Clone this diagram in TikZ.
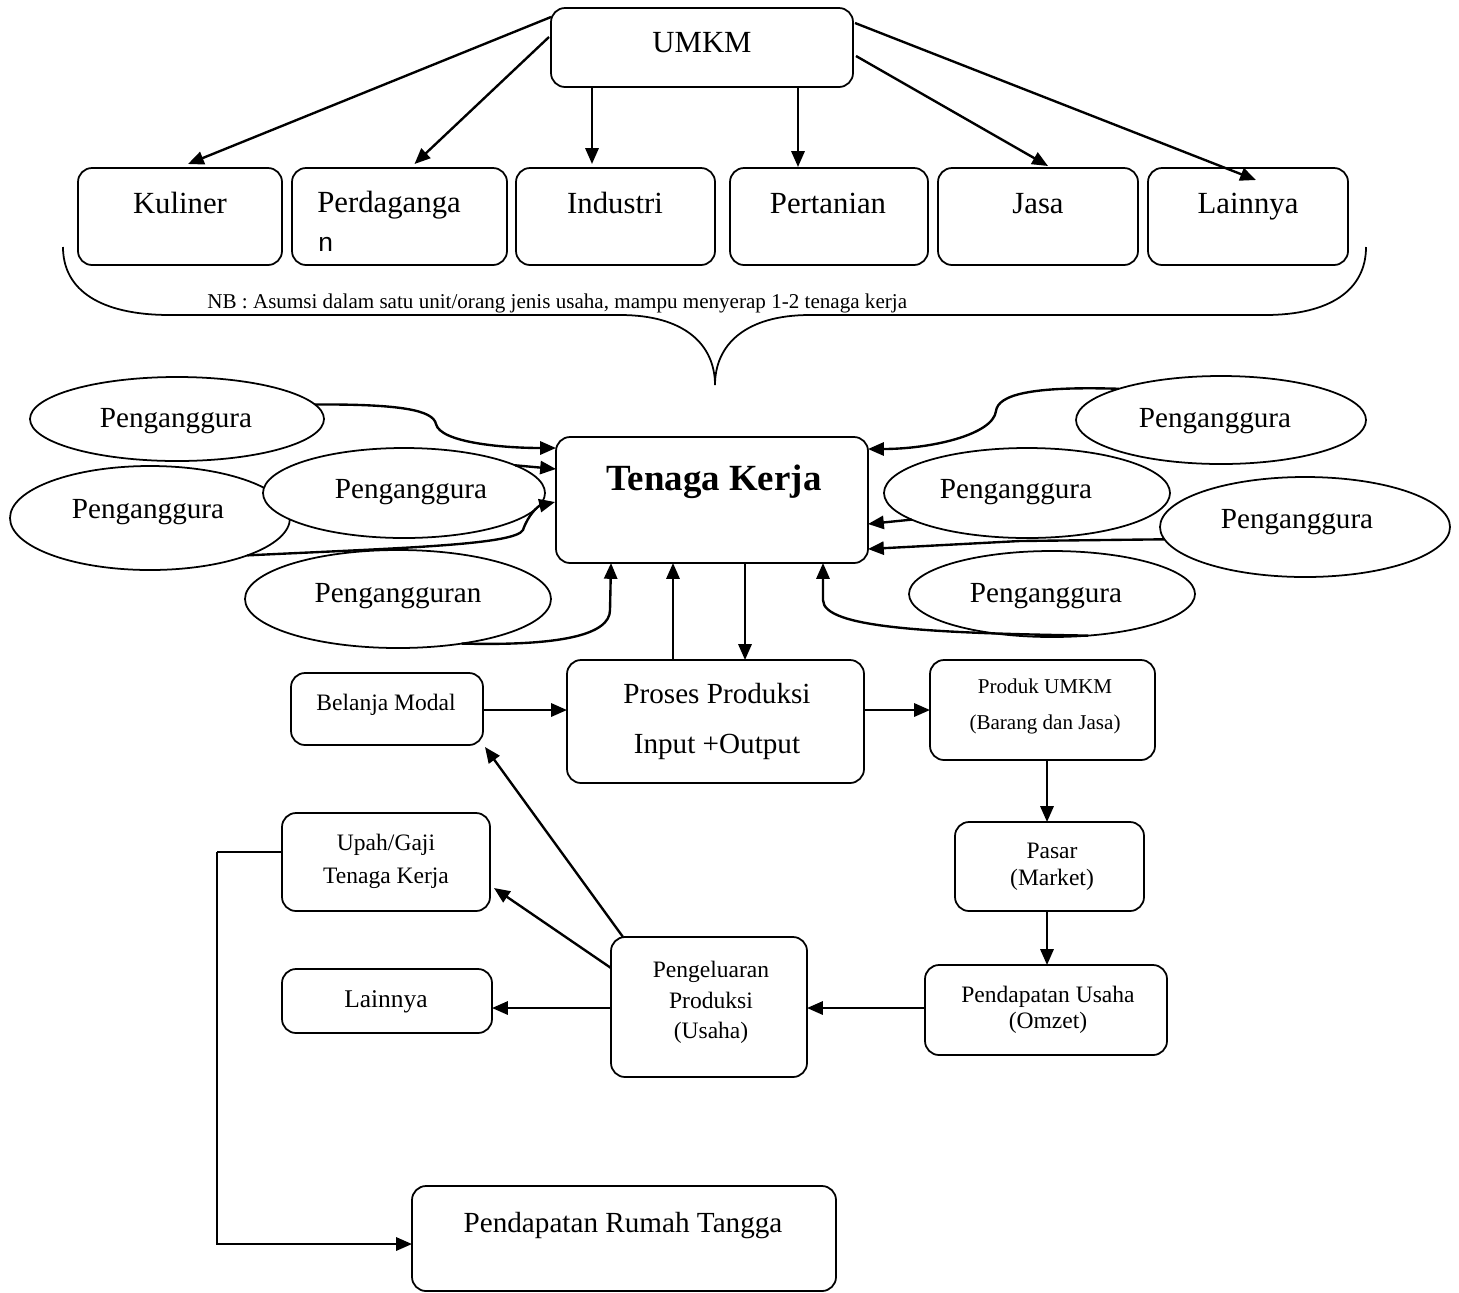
\documentclass[tikz,border=0pt]{standalone}
\usepackage{fontspec}
\setmainfont{Liberation Serif}
\newfontfamily\sansf{Liberation Sans}
\usetikzlibrary{arrows.meta,shapes.geometric,calc}
\newcommand{\rbox}[5]{\node[rbox, minimum width={(#4-#2)*0.02cm}, minimum height={(#5-#3)*0.02cm}] (#1) at ({(#2+#4)/2},{(#3+#5)/2}) {};}
\newcommand{\ebox}[5]{\node[ell, minimum width={2*#4*0.02cm}, minimum height={2*#5*0.02cm}] (#1) at (#2,#3) {};}
\begin{document}
\begin{tikzpicture}[x=0.02cm,y=-0.02cm,
  rbox/.style={draw, rounded corners=8pt, line width=1pt, inner sep=0pt, outer sep=0pt, fill=white},
  ell/.style={draw, ellipse, line width=1pt, inner sep=0pt, outer sep=0pt, fill=white},
  arr/.style={line width=1.35pt, -{Triangle[length=9pt,width=7.5pt]}},
  big/.style={inner sep=0pt, anchor=base, font=\fontsize{17.5}{20}\selectfont},
  mid/.style={inner sep=0pt, anchor=base, font=\fontsize{16.6}{20}\selectfont},
  sm/.style={inner sep=0pt, anchor=base, font=\fontsize{13.4}{16}\selectfont},
  tiny/.style={inner sep=0pt, anchor=base, font=\fontsize{12}{14}\selectfont}]
\useasboundingbox (0,0) rectangle (1459,1292);

% ---------- top ----------
\rbox{umkm}{551}{8}{853}{87}
\node[big] (tumkm) at (702,52) {UMKM};
\rbox{kul}{78}{168}{282}{265}
\rbox{per}{292}{168}{507}{265}
\rbox{ind}{516}{168}{715}{265}
\rbox{tan}{730}{168}{928}{265}
\rbox{jas}{938}{168}{1138}{265}
\rbox{lai}{1148}{168}{1348}{265}
\node[big] (tkul) at (180,213) {Kuliner};
\node[big, anchor=base west] (tper) at (317,212) {Perdaganga};
\node[inner sep=0pt, anchor=base west, font=\sansf\fontsize{15}{17}\selectfont] (tper2) at (318,251) {n};
\node[big] (tind) at (615,213) {Industri};
\node[big] (ttan) at (828,213) {Pertanian};
\node[big] (tjas) at (1038,213) {Jasa};
\node[big] (tlai) at (1248,213) {Lainnya};

\coordinate (cind) at (592,0);
\coordinate (ctan) at (798,0);
\draw[arr] ($(umkm.north west)+(0,9)$) -- ($(kul.north)+(8,-4)$);
\draw[arr] ($(umkm.north west)+(-2,29)$) -- ($(per.north)+(15,-4)$);
\draw[arr] (umkm.south -| cind) -- ($(ind.north -| cind)+(0,-4)$);
\draw[arr] (umkm.south -| ctan) -- ($(tan.north -| ctan)+(0,-1)$);
\draw[arr] ($(umkm.north east)+(3,48)$) -- ($(jas.north)+(10,-2)$);
\draw[arr] ($(umkm.north east)+(2,15)$) -- ($(lai.north)+(8,12)$);

% brace
\draw[line width=1pt] (63,247) .. controls (63,290) and (100,315) .. (170,315) -- (620,315)
  .. controls (685,315) and (715,345) .. (715,385)
  .. controls (715,345) and (745,315) .. (810,315) -- (1265,315)
  .. controls (1330,315) and (1366,290) .. (1366,247);
\node[tiny, anchor=base west] (nb) at (207,308) {NB : Asumsi dalam satu unit/orang jenis usaha, mampu menyerap 1-2 tenaga kerja};

% ---------- Tenaga Kerja ----------
\rbox{tk}{556}{437}{868}{563}
\node[inner sep=0pt, anchor=base, font=\bfseries\fontsize{21}{24}\selectfont] (ttk) at (714,490) {Tenaga Kerja};

% left ellipses
\ebox{e1}{177}{419}{147}{42}
\ebox{e2}{150}{518}{140}{52}
\ebox{e3}{404}{493}{141}{45}
\ebox{e4}{398}{599}{153}{49}
\node[mid] (te1) at (176,427) {Penganggura};
\node[mid] (te2) at (148,518) {Penganggura};
\node[mid] (te3) at (411,498) {Penganggura};
\node[mid] (te4) at (398,602) {Pengangguran};

% right ellipses
\ebox{e5}{1221}{420}{145}{44}
\ebox{e6}{1027}{493}{143}{45}
\ebox{e7}{1305}{527}{145}{50}
\ebox{e8}{1052}{594}{143}{43}
\node[mid] (te5) at (1215,427) {Penganggura};
\node[mid] (te6) at (1016,498) {Penganggura};
\node[mid] (te7) at (1297,528) {Penganggura};
\node[mid] (te8) at (1046,602) {Penganggura};

% arrows into Tenaga Kerja (left)
\draw[arr] (e1.6) .. controls (400,404) and (433,410) .. (436,424)
  .. controls (440,442) and (500,448) .. ($(tk.west)+(0,-52)$);
\draw[arr] (e3.14) -- ($(tk.west)+(0,-31)$);
\draw[arr] (e2.339) .. controls (400,548) and (515,545) .. (523,530)
  .. controls (528,515) and (538,506) .. ($(tk.west)+(-1,2)$);
\draw[arr] (e4.325) .. controls (560,646) and (610,635) .. (610,610) -- ($(tk.south)+(-101,0)$);

% arrows into Tenaga Kerja (right)
\draw[arr] (e5.163) .. controls (1030,386) and (998,395) .. (996,411)
  .. controls (993,435) and (930,449) .. ($(tk.east)+(0,-51)$);
\draw[arr] (e6.193) -- ($(tk.east)+(0,24)$);
\draw[arr] (e7.185) -- (1020,541) -- ($(tk.east)+(0,49)$);
\draw[arr] (e8.311) .. controls (930,633) and (823,628) .. (823,600) -- ($(tk.south)+(111,0)$);

% ---------- production ----------
\rbox{bm}{291}{673}{483}{745}
\rbox{pp}{567}{660}{864}{783}
\rbox{pu}{930}{660}{1155}{760}
\rbox{pas}{955}{822}{1144}{911}
\rbox{pus}{925}{965}{1167}{1055}
\rbox{peng}{611}{937}{807}{1077}
\rbox{upah}{282}{813}{490}{911}
\rbox{lain}{282}{969}{492}{1033}
\rbox{prt}{412}{1186}{836}{1291}

\node[sm] (tbm) at (386,710) {Belanja Modal};
\node[mid] (tpp1) at (717,703) {Proses Produksi};
\node[mid] (tpp2) at (717,753) {Input +Output};
\node[tiny] (tpu1) at (1045,693) {Produk UMKM};
\node[tiny] (tpu2) at (1045,729) {(Barang dan Jasa)};
\node[sm] (tpas1) at (1052,858) {Pasar};
\node[sm] (tpas2) at (1052,885) {(Market)};
\node[sm] (tpus1) at (1048,1002) {Pendapatan Usaha};
\node[sm] (tpus2) at (1048,1028) {(Omzet)};
\node[sm] (tpe1) at (711,977) {Pengeluaran};
\node[sm] (tpe2) at (711,1008) {Produksi};
\node[sm] (tpe3) at (711,1038) {(Usaha)};
\node[sm] (tup1) at (386,850) {Upah/Gaji};
\node[sm] (tup2) at (386,883) {Tenaga Kerja};
\node[inner sep=0pt, anchor=base, font=\fontsize{14.5}{17}\selectfont] (tlain) at (386,1007) {Lainnya};
\node[mid] (tprt) at (623,1232) {Pendapatan Rumah Tangga};

\coordinate (cup) at (673,0);
\coordinate (cdn) at (745,0);
\coordinate (c710) at (0,710);
\coordinate (cx1047) at (1047,0);
\coordinate (c1008) at (0,1008);
\coordinate (cl) at (217,852);
\coordinate (cb) at (217,1244);

\draw[arr] (pp.north -| cup) -- (tk.south -| cup);
\draw[arr] (tk.south -| cdn) -- (pp.north -| cdn);
\draw[arr] (bm.east |- c710) -- (pp.west |- c710);
\draw[arr] (pp.east |- c710) -- (pu.west |- c710);
\draw[arr] (pu.south -| cx1047) -- (pas.north -| cx1047);
\draw[arr] (pas.south -| cx1047) -- (pus.north -| cx1047);
\draw[arr] (pus.west |- c1008) -- (peng.east |- c1008);
\draw[arr] (peng.west |- c1008) -- (lain.east |- c1008);
\draw[arr] ($(peng.north west)+(0,31)$) -- ($(upah.south east)+(4,-23)$);
\draw[arr] ($(peng.north west)+(12,0)$) -- ($(bm.south east)+(2,2)$);
\draw[line width=1.35pt] (upah.west |- cl) -- (cl);
\draw[arr] (cl) -- (cb) -- (prt.west |- cb);
\end{tikzpicture}
\end{document}
